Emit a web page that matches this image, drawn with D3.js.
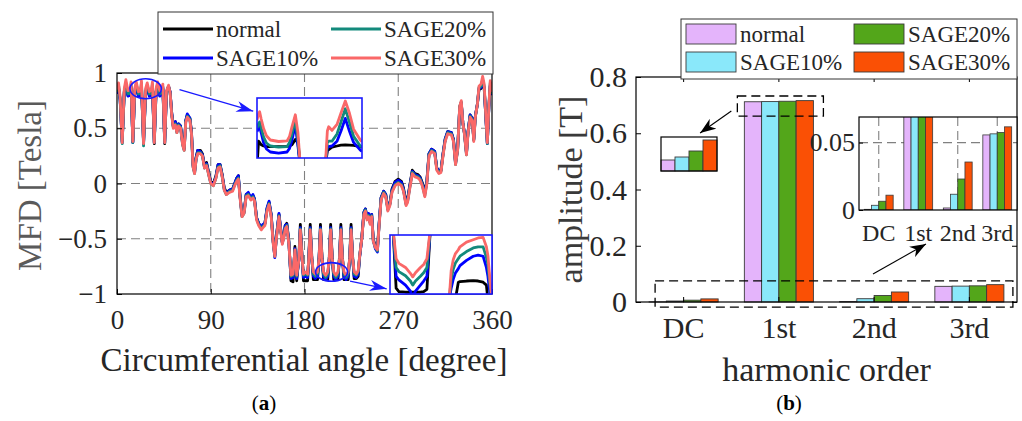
<!DOCTYPE html>
<html>
<head>
<meta charset="utf-8">
<script src="https://cdn.jsdelivr.net/npm/d3@7"></script>
<style>
  body { margin: 0; background: #fff; }
  svg { display: block; font-family: "Liberation Serif", "Times New Roman", serif; }
</style>
</head>
<body>
<svg id="chart"></svg>
<script>
const width = 1022;
const height = 421;

const seriesNames = ["normal", "SAGE10%", "SAGE20%", "SAGE30%"];
const lineColors = ["#000000", "#0000ff", "#138a7c", "#fa6868"];
const barColors = ["#e4b4fb", "#8ae8fa", "#53a61a", "#fa5005"];

// (a) magnetic flux density vs angle
const angles = [
  0, 1.5, 3, 5, 7, 8.5, 10.5, 12.5, 13.5, 15.2, 17, 18.5, 20.5, 22.5, 23.5, 25.5, 27.5, 29, 31, 33, 34, 35.8, 37.5, 39, 41, 43, 44, 45.8, 47.5, 49.5, 51,
  52.5, 54, 56, 57.5, 59, 61, 63, 64.5, 66, 67.5, 70, 71.5, 73, 74.5, 76, 77.5, 80, 82, 84, 86, 88, 90, 92.5, 95, 97, 99, 101, 103, 105, 108,
  111, 113, 115, 116.5, 118, 120, 122, 124, 126, 128.5, 130.5, 132, 134, 136, 138.5, 140, 142, 144, 146, 148, 150, 151.5, 153, 155.5, 157, 158.7, 160, 161.5, 163, 165,
  165.5, 167, 169, 170.8, 172.5, 174.5, 176, 177.5, 179, 181, 183, 184, 185.5, 187, 188.5, 190.5, 192.5, 194, 195.3, 196.8, 198.3, 200.3, 202.3, 203.8, 205.1, 206.6,
  208.1, 210.1, 212.1, 213.6, 214.9, 216.4, 217.9, 219.9, 221.9, 223.4, 224.7, 226.2, 227.7, 229.7, 231.5, 233, 235,
  237, 238.5, 240, 241.5, 243, 244.5, 246, 248, 250, 251.5, 253.5, 256, 258, 260, 262, 264, 267, 270, 273, 275,
  277.5, 279, 281, 283.5, 286, 289, 291, 293, 295.5, 297.5, 299.5, 302, 305, 307, 309, 311, 313, 315, 317.5, 321,
  323, 325, 327, 329, 330.5, 332, 333.5, 335.5, 337, 339, 341, 342.5, 344, 346, 347.5, 349.5, 351, 352.5, 354, 355.5, 357, 358.3, 360
];

const mfdNormal = [
  0.82, 0.86, 0.76, 0.38, 0.83, 0.88, 0.80, 0.81, 0.87, 0.38, 0.83, 0.87, 0.80, 0.81, 0.88, 0.37, 0.83, 0.86, 0.80, 0.81, 0.87, 0.36, 0.83, 0.87, 0.80, 0.82, 0.86, 0.36, 0.82, 0.88, 0.83,
  0.64, 0.52, 0.56, 0.48, 0.54, 0.52, 0.37, 0.32, 0.57, 0.62, 0.59, 0.47, 0.17, 0.11, 0.24, 0.30, 0.30, 0.27, 0.16, 0.19, 0.10, 0.02, 0.00, 0.07, 0.17, 0.17, 0.08, -0.04, -0.08, -0.06,
  -0.05, 0.00, 0.05, 0.07, -0.10, -0.28, -0.25, -0.10, -0.09, -0.13, -0.11, -0.14, -0.31, -0.36, -0.40, -0.38, -0.36, -0.23, -0.17, -0.28, -0.53, -0.65, -0.48, -0.28, -0.40, -0.53, -0.48, -0.38, -0.36, -0.52,
  -0.60, -0.88, -0.89, -0.57, -0.88, -0.68, -0.37, -0.63, -0.88, -0.88, -0.88, -0.68, -0.37, -0.66, -0.87, -0.87, -0.87, -0.66, -0.37, -0.66, -0.87, -0.87, -0.87, -0.66, -0.37, -0.66,
  -0.87, -0.87, -0.87, -0.66, -0.37, -0.66, -0.87, -0.87, -0.87, -0.66, -0.37, -0.66, -0.86, -0.86, -0.84, -0.66, -0.49,
  -0.26, -0.23, -0.31, -0.28, -0.35, -0.28, -0.50, -0.57, -0.59, -0.38, -0.13, -0.07, -0.10, -0.23, -0.18, -0.05, 0.02, 0.04, 0.02, -0.04,
  -0.17, -0.14, -0.02, 0.12, 0.09, 0.08, 0.06, 0.01, -0.08, 0.03, 0.27, 0.31, 0.29, 0.14, 0.11, 0.12, 0.27, 0.40, 0.47, 0.46,
  0.40, 0.19, 0.31, 0.69, 0.73, 0.55, 0.46, 0.28, 0.47, 0.62, 0.59, 0.40, 0.61, 0.72, 0.85, 0.86, 0.91, 0.86, 0.61, 0.37, 0.69, 0.88, 0.80
];

const mfdSage10 = [
  0.81, 0.87, 0.75, 0.37, 0.83, 0.89, 0.79, 0.80, 0.88, 0.37, 0.83, 0.88, 0.79, 0.80, 0.89, 0.36, 0.83, 0.87, 0.79, 0.80, 0.88, 0.37, 0.83, 0.88, 0.79, 0.81, 0.87, 0.37, 0.82, 0.88, 0.83,
  0.64, 0.52, 0.56, 0.47, 0.54, 0.52, 0.36, 0.31, 0.57, 0.63, 0.59, 0.46, 0.16, 0.10, 0.23, 0.30, 0.29, 0.26, 0.15, 0.18, 0.09, 0.01, -0.01, 0.06, 0.17, 0.17, 0.07, -0.05, -0.09, -0.06,
  -0.05, 0.00, 0.05, 0.07, -0.10, -0.29, -0.26, -0.10, -0.08, -0.13, -0.10, -0.14, -0.31, -0.36, -0.40, -0.37, -0.36, -0.22, -0.16, -0.28, -0.53, -0.67, -0.48, -0.27, -0.40, -0.54, -0.48, -0.38, -0.37, -0.53,
  -0.62, -0.86, -0.85, -0.59, -0.86, -0.70, -0.40, -0.65, -0.85, -0.84, -0.85, -0.70, -0.40, -0.68, -0.84, -0.86, -0.84, -0.68, -0.40, -0.68, -0.84, -0.87, -0.84, -0.68, -0.40, -0.68,
  -0.84, -0.87, -0.84, -0.68, -0.40, -0.68, -0.84, -0.87, -0.84, -0.68, -0.40, -0.68, -0.84, -0.85, -0.82, -0.66, -0.50,
  -0.26, -0.23, -0.31, -0.27, -0.35, -0.28, -0.51, -0.59, -0.62, -0.38, -0.13, -0.07, -0.10, -0.23, -0.18, -0.06, 0.01, 0.03, 0.01, -0.05,
  -0.18, -0.15, -0.03, 0.11, 0.08, 0.07, 0.05, 0.00, -0.09, 0.02, 0.27, 0.31, 0.29, 0.14, 0.11, 0.12, 0.27, 0.40, 0.47, 0.46,
  0.40, 0.18, 0.31, 0.69, 0.73, 0.55, 0.46, 0.27, 0.47, 0.62, 0.59, 0.40, 0.61, 0.72, 0.86, 0.87, 0.92, 0.87, 0.61, 0.36, 0.69, 0.89, 0.80
];

const mfdSage20 = [
  0.83, 0.89, 0.77, 0.36, 0.84, 0.91, 0.81, 0.82, 0.90, 0.37, 0.84, 0.90, 0.81, 0.82, 0.91, 0.34, 0.84, 0.89, 0.81, 0.82, 0.90, 0.37, 0.84, 0.90, 0.81, 0.83, 0.88, 0.37, 0.83, 0.88, 0.82,
  0.63, 0.51, 0.54, 0.46, 0.53, 0.51, 0.35, 0.30, 0.56, 0.61, 0.58, 0.45, 0.15, 0.09, 0.22, 0.28, 0.28, 0.25, 0.14, 0.17, 0.08, 0.00, -0.02, 0.05, 0.15, 0.16, 0.06, -0.06, -0.10, -0.07,
  -0.06, -0.01, 0.03, 0.05, -0.11, -0.30, -0.27, -0.11, -0.10, -0.14, -0.12, -0.15, -0.32, -0.37, -0.41, -0.39, -0.37, -0.24, -0.18, -0.29, -0.54, -0.66, -0.49, -0.29, -0.41, -0.54, -0.49, -0.40, -0.38, -0.54,
  -0.62, -0.84, -0.83, -0.60, -0.84, -0.70, -0.41, -0.65, -0.83, -0.82, -0.83, -0.70, -0.41, -0.68, -0.82, -0.84, -0.82, -0.68, -0.41, -0.68, -0.82, -0.85, -0.82, -0.68, -0.41, -0.68,
  -0.82, -0.85, -0.82, -0.68, -0.41, -0.68, -0.82, -0.85, -0.82, -0.68, -0.41, -0.68, -0.82, -0.83, -0.80, -0.65, -0.50,
  -0.27, -0.24, -0.32, -0.29, -0.36, -0.29, -0.52, -0.58, -0.61, -0.39, -0.14, -0.08, -0.11, -0.24, -0.19, -0.07, -0.01, 0.01, -0.01, -0.06,
  -0.19, -0.16, -0.04, 0.10, 0.07, 0.06, 0.04, -0.01, -0.11, 0.01, 0.26, 0.30, 0.28, 0.13, 0.10, 0.11, 0.26, 0.39, 0.46, 0.45,
  0.39, 0.17, 0.30, 0.70, 0.74, 0.55, 0.45, 0.26, 0.46, 0.61, 0.58, 0.39, 0.60, 0.72, 0.87, 0.88, 0.94, 0.88, 0.62, 0.36, 0.70, 0.91, 0.81
];

const mfdSage30 = [
  0.85, 0.91, 0.78, 0.37, 0.86, 0.94, 0.84, 0.85, 0.92, 0.38, 0.86, 0.92, 0.83, 0.84, 0.93, 0.36, 0.86, 0.91, 0.83, 0.85, 0.92, 0.37, 0.86, 0.92, 0.84, 0.86, 0.90, 0.37, 0.84, 0.89, 0.82,
  0.62, 0.50, 0.53, 0.46, 0.52, 0.50, 0.35, 0.30, 0.55, 0.60, 0.57, 0.45, 0.15, 0.09, 0.22, 0.27, 0.27, 0.25, 0.14, 0.16, 0.08, 0.00, -0.02, 0.05, 0.14, 0.15, 0.06, -0.06, -0.10, -0.08,
  -0.07, -0.02, 0.02, 0.04, -0.12, -0.30, -0.27, -0.12, -0.11, -0.15, -0.13, -0.16, -0.33, -0.38, -0.42, -0.40, -0.38, -0.25, -0.19, -0.30, -0.55, -0.66, -0.50, -0.30, -0.42, -0.55, -0.50, -0.41, -0.39, -0.55,
  -0.62, -0.83, -0.82, -0.60, -0.83, -0.70, -0.42, -0.65, -0.82, -0.80, -0.82, -0.70, -0.42, -0.68, -0.80, -0.82, -0.80, -0.68, -0.42, -0.68, -0.80, -0.83, -0.80, -0.68, -0.42, -0.68,
  -0.80, -0.83, -0.80, -0.68, -0.42, -0.68, -0.80, -0.83, -0.80, -0.68, -0.42, -0.68, -0.80, -0.82, -0.79, -0.65, -0.50,
  -0.28, -0.25, -0.33, -0.30, -0.37, -0.30, -0.52, -0.58, -0.60, -0.40, -0.15, -0.09, -0.12, -0.25, -0.20, -0.08, -0.02, 0.00, -0.02, -0.07,
  -0.20, -0.17, -0.05, 0.09, 0.06, 0.05, 0.03, -0.02, -0.12, 0.00, 0.25, 0.29, 0.27, 0.12, 0.09, 0.10, 0.25, 0.38, 0.45, 0.44,
  0.38, 0.17, 0.30, 0.70, 0.75, 0.55, 0.45, 0.26, 0.45, 0.60, 0.57, 0.38, 0.60, 0.72, 0.88, 0.90, 0.97, 0.90, 0.62, 0.37, 0.70, 0.93, 0.83
];

// (a) zoomed insets, local units 0..100
const zoomTopX = [0, 1.5, 2.5, 4, 6.3, 9, 12.7, 20.6, 28.6, 31, 33.3, 36.5, 39, 41.3, 53, 65, 67, 68.3, 71.4, 76.2, 80, 84.1, 88, 92, 98.4, 100];
const zoomTopNormal = [-15, 28, 26, 22, 20, 19, 19, 19, 19.5, 20, 22, 31, 25, -15, null, -15, 12, 14, 18, 20, 21.5, 22, 21.5, 21, 19, 18];
const zoomTopSage10 = [44, 50, 52, 42, 25, 15, 10, 8, 10, 16, 30, 55, 20, -15, null, -15, 18, 19, 20, 28, 45, 66, 45, 26, 13, 11];
const zoomTopSage20 = [50, 57, 60, 50, 35, 25, 20, 18, 19, 26, 40, 63, 30, -15, null, -15, 26, 28, 28, 40, 60, 82, 60, 36, 20, 18];
const zoomTopSage30 = [63, 74, 77, 65, 49, 37, 30, 27.5, 28.5, 36, 52, 72, 42, -15, null, -15, 45, 52, 46, 56, 75, 95, 75, 48, 30, 27];

const zoomBotX = [3, 6, 8.7, 15.2, 20, 22.3, 25, 29.8, 33, 36.2, 39.5, 48, 58, 60, 62, 64, 67, 68.6, 75, 81.6, 86.4, 91.3, 94.5, 96, 97.7, 100];
const zoomBotNormal = [110, 10, 4, 3, 3, 3, 3, 3, 4, 8, 110, null, -10, -10, -10, -10, 20, 21, 22, 22.5, 22, 20, 15, -10, -10, -10];
const zoomBotSage10 = [110, 30, 24, 15, 5, -5, 5, 15, 22, 30, 110, null, -10, 10, 25, 35, 43, 48, 57, 64, 66, 64, 45, 30, 5, -10];
const zoomBotSage20 = [110, 45, 38, 31, 22, 15, 22, 30, 36, 45, 110, null, -10, 25, 42, 52, 60, 64, 72, 78, 80, 80, 62, 50, 20, -10];
const zoomBotSage30 = [110, 60, 52, 45, 35, 29, 36, 45, 50, 60, 110, null, -10, 40, 58, 68, 75, 80, 88, 92, 95, 96, 80, 65, 30, -10];

// (b) harmonic amplitudes
const harmonics = ["DC", "1st", "2nd", "3rd"];
const ampNormal = [0.0005, 0.7120, 0.0015, 0.0557];
const ampSage10 = [0.0035, 0.7126, 0.0117, 0.0565];
const ampSage20 = [0.0065, 0.7138, 0.0230, 0.0575];
const ampSage30 = [0.0110, 0.7160, 0.0356, 0.0617];

const mfdTicksX = [0, 90, 180, 270, 360];
const mfdTicksY = [-1, -0.5, 0, 0.5, 1];
const ampTicks = [0, 0.2, 0.4, 0.6, 0.8];
const ampZoomTicks = [0, 0.05];

const textColor = "#262626";
const gridColor = "#808080";

const svg = d3.select("#chart").attr("width", width).attr("height", height);
const defs = svg.append("defs");

function arrowMarker(id, color, len, half) {
  defs.append("marker")
    .attr("id", id)
    .attr("markerUnits", "userSpaceOnUse")
    .attr("viewBox", `${-len} ${-half} ${len} ${half * 2}`)
    .attr("markerWidth", len)
    .attr("markerHeight", half * 2)
    .attr("refX", 0)
    .attr("refY", 0)
    .attr("orient", "auto")
    .append("path")
    .attr("d", `M0,0L${-len},${-half}L${-len * 0.7},0L${-len},${half}Z`)
    .attr("fill", color);
}
arrowMarker("arrow-blue", "#1a1aff", 17, 5.5);
arrowMarker("arrow-black", "#000", 16, 6);

function clipRect(id, x0, y0, x1, y1) {
  defs.append("clipPath").attr("id", id)
    .append("rect").attr("x", x0).attr("y", y0).attr("width", x1 - x0).attr("height", y1 - y0);
}

function styleTicks(g, size) {
  g.select(".domain").remove();
  g.selectAll("line").attr("stroke", "#000").attr("stroke-width", 1);
  g.selectAll("text").attr("fill", textColor).style("font-size", size + "px").style("font-family", "Liberation Serif");
}

// ---------------- panel (a) ----------------
const pa = { left: 117, right: 492, top: 73, bottom: 294 };
const xA = d3.scaleLinear().domain([0, 360]).range([pa.left, pa.right]);
const yA = d3.scaleLinear().domain([-1, 1]).range([pa.bottom, pa.top]);
clipRect("clip-a", pa.left, pa.top, pa.right, pa.bottom);

const gA = svg.append("g");

gA.append("g").selectAll("line.gx").data([90, 180, 270]).join("line")
  .attr("x1", d => xA(d)).attr("x2", d => xA(d)).attr("y1", pa.top).attr("y2", pa.bottom)
  .attr("stroke", gridColor).attr("stroke-width", 1.1).attr("stroke-dasharray", "9,5");
gA.append("g").selectAll("line.gy").data([-0.5, 0, 0.5]).join("line")
  .attr("x1", pa.left).attr("x2", pa.right).attr("y1", d => yA(d)).attr("y2", d => yA(d))
  .attr("stroke", gridColor).attr("stroke-width", 1.1).attr("stroke-dasharray", "9,5");

const mfdSeries = [mfdNormal, mfdSage10, mfdSage20, mfdSage30];
const lineA = d3.line().x(d => xA(d[0])).y(d => yA(d[1]));
gA.append("g").attr("clip-path", "url(#clip-a)")
  .selectAll("path").data(mfdSeries).join("path")
  .attr("d", vals => lineA(angles.map((t, j) => [t, vals[j]])))
  .attr("fill", "none")
  .attr("stroke", (d, i) => lineColors[i])
  .attr("stroke-width", 2.8)
  .attr("stroke-linejoin", "round");

gA.append("g").attr("transform", `translate(0,${pa.bottom})`)
  .call(d3.axisBottom(xA).tickValues(mfdTicksX).tickSizeInner(-5).tickSizeOuter(0).tickPadding(16).tickFormat(d3.format("~g")))
  .call(g => styleTicks(g, 27));
gA.append("g").attr("transform", `translate(${pa.left},0)`)
  .call(d3.axisLeft(yA).tickValues(mfdTicksY).tickSizeInner(-5).tickSizeOuter(0).tickPadding(10).tickFormat(d3.format("~g")))
  .call(g => styleTicks(g, 27));

gA.append("rect")
  .attr("x", pa.left).attr("y", pa.top).attr("width", pa.right - pa.left).attr("height", pa.bottom - pa.top)
  .attr("fill", "none").attr("stroke", "#000").attr("stroke-width", 1.2);

// ellipses and arrows pointing at the zoom boxes
const marksA = [
  { angle: 27.5, value: 0.857, rx: 15.7, ry: 10, from: [60, 0.85], to: [130.8, 0.654] },
  { angle: 206, value: -0.8, rx: 16, ry: 9.3, from: [223.7, -0.884], to: [258.9, -0.953] }
];
marksA.forEach(m => {
  gA.append("ellipse")
    .attr("cx", xA(m.angle)).attr("cy", yA(m.value)).attr("rx", m.rx).attr("ry", m.ry)
    .attr("fill", "none").attr("stroke", "#1a1aff").attr("stroke-width", 1.6);
  gA.append("line")
    .attr("x1", xA(m.from[0])).attr("y1", yA(m.from[1]))
    .attr("x2", xA(m.to[0])).attr("y2", yA(m.to[1]))
    .attr("stroke", "#1a1aff").attr("stroke-width", 1.3)
    .attr("marker-end", "url(#arrow-blue)");
});

function zoomInset(id, box, xs, seriesVals) {
  const sx = d3.scaleLinear().domain([0, 100]).range([box.left, box.right]);
  const sy = d3.scaleLinear().domain([0, 100]).range([box.bottom, box.top]);
  clipRect(id, box.left, box.top, box.right, box.bottom);
  const g = gA.append("g");
  g.append("rect")
    .attr("x", box.left).attr("y", box.top).attr("width", box.right - box.left).attr("height", box.bottom - box.top)
    .attr("fill", "#fff");
  const ln = d3.line().defined(d => d[1] != null).x(d => sx(d[0])).y(d => sy(d[1]));
  g.append("g").attr("clip-path", `url(#${id})`)
    .selectAll("path").data(seriesVals).join("path")
    .attr("d", vals => ln(xs.map((x, j) => [x, vals[j]])))
    .attr("fill", "none")
    .attr("stroke", (d, i) => lineColors[i])
    .attr("stroke-width", 2.8)
    .attr("stroke-linejoin", "round");
  g.append("rect")
    .attr("x", box.left).attr("y", box.top).attr("width", box.right - box.left).attr("height", box.bottom - box.top)
    .attr("fill", "none").attr("stroke", "#1a1aff").attr("stroke-width", 1.6);
}
zoomInset("clip-z1", { left: 257, right: 362, top: 98, bottom: 158 }, zoomTopX,
  [zoomTopNormal, zoomTopSage10, zoomTopSage20, zoomTopSage30]);
zoomInset("clip-z2", { left: 390, right: 492, top: 235, bottom: 294 }, zoomBotX,
  [zoomBotNormal, zoomBotSage10, zoomBotSage20, zoomBotSage30]);

gA.append("text")
  .attr("x", 304).attr("y", 371)
  .attr("text-anchor", "middle").attr("fill", textColor).style("font-size", "33px")
  .text("Circumferential angle [degree]");
gA.append("text")
  .attr("transform", `translate(41,${(pa.top + pa.bottom) / 2 + 2}) rotate(-90)`)
  .attr("text-anchor", "middle").attr("fill", "#5a5a5a").style("font-size", "33px")
  .text("MFD [Tesla]");

// legend (a)
const legA = gA.append("g");
legA.append("rect").attr("x", 158).attr("y", 12).attr("width", 335).attr("height", 62)
  .attr("fill", "#fff").attr("stroke", "#333").attr("stroke-width", 1);
const legPos = [[163, 29], [163, 58], [331, 29], [331, 58]];
seriesNames.forEach((name, i) => {
  const [lx, ly] = legPos[i];
  legA.append("line").attr("x1", lx).attr("x2", lx + 50).attr("y1", ly).attr("y2", ly)
    .attr("stroke", lineColors[i]).attr("stroke-width", 2.8);
  legA.append("text").attr("x", lx + 53).attr("y", ly + 8)
    .attr("fill", textColor).style("font-size", "23px").text(name);
});

svg.append("text").attr("x", 264).attr("y", 410).attr("text-anchor", "middle")
  .attr("fill", "#000").style("font-size", "21px")
  .html('(<tspan font-weight="bold">a</tspan>)');

// ---------------- panel (b) ----------------
const pb = { left: 636, right: 1017, top: 77, bottom: 302 };
const xB = d3.scaleBand().domain(harmonics).range([pb.left, pb.right]).paddingInner(0.275).paddingOuter(0.1375);
const xBs = d3.scaleBand().domain(seriesNames).range([0, xB.bandwidth()]);
const yB = d3.scaleLinear().domain([0, 0.8]).range([pb.bottom, pb.top]);

const ampSeries = [ampNormal, ampSage10, ampSage20, ampSage30];
const barData = harmonics.flatMap((h, i) => seriesNames.map((s, j) => ({ h, s, j, v: ampSeries[j][i] })));

const gB = svg.append("g");

gB.append("g").selectAll("rect").data(barData).join("rect")
  .attr("x", d => xB(d.h) + xBs(d.s))
  .attr("width", xBs.bandwidth())
  .attr("y", d => yB(d.v))
  .attr("height", d => yB(0) - yB(d.v))
  .attr("fill", d => barColors[d.j])
  .attr("stroke", "#3a3a3a").attr("stroke-width", 0.9);

gB.append("g").attr("transform", `translate(0,${pb.bottom})`)
  .call(d3.axisBottom(xB).tickSizeInner(-5).tickSizeOuter(0).tickPadding(15))
  .call(g => styleTicks(g, 30));
gB.append("g").attr("transform", `translate(0,${pb.top})`)
  .call(d3.axisTop(xB).tickSizeInner(-5).tickSizeOuter(0).tickFormat(""))
  .call(g => styleTicks(g, 30));
gB.append("g").attr("transform", `translate(${pb.left},0)`)
  .call(d3.axisLeft(yB).tickValues(ampTicks).tickSizeInner(-5).tickSizeOuter(0).tickPadding(9).tickFormat(d3.format("~g")))
  .call(g => styleTicks(g, 30));
gB.append("g").attr("transform", `translate(${pb.right},0)`)
  .call(d3.axisRight(yB).tickValues(ampTicks).tickSizeInner(-5).tickSizeOuter(0).tickFormat(""))
  .call(g => styleTicks(g, 30));

gB.append("rect")
  .attr("x", pb.left).attr("y", pb.top).attr("width", pb.right - pb.left).attr("height", pb.bottom - pb.top)
  .attr("fill", "none").attr("stroke", "#000").attr("stroke-width", 1.2);

// dashed boxes marking zoomed areas
const bw = xB.bandwidth();
const dashBoxes = [
  { x0: xB("1st") - 7, x1: xB("1st") + bw + 10, v0: 0.7324, v1: 0.661 },
  { x0: xB("DC") + 6, x1: xB("3rd") + bw + 9, v0: 0.075, v1: -0.018 }
];
gB.append("g").selectAll("rect").data(dashBoxes).join("rect")
  .attr("x", d => d.x0).attr("width", d => d.x1 - d.x0)
  .attr("y", d => yB(d.v0)).attr("height", d => yB(d.v1) - yB(d.v0))
  .attr("fill", "none").attr("stroke", "#000").attr("stroke-width", 1.3).attr("stroke-dasharray", "9,5");

const arrowsB = [
  { x0: xB("1st") - 13, v0: 0.679, x1: xB("DC") + 51, v1: 0.601 },
  { x0: xB("2nd") + 33.4, v0: 0.0996, x1: xB("2nd") + 86.4, v1: 0.206 }
];
gB.append("g").selectAll("line").data(arrowsB).join("line")
  .attr("x1", d => d.x0).attr("y1", d => yB(d.v0))
  .attr("x2", d => d.x1).attr("y2", d => yB(d.v1))
  .attr("stroke", "#000").attr("stroke-width", 1.1)
  .attr("marker-end", "url(#arrow-black)");

// zoom of the 1st harmonic tops
const zb = { left: 661, right: 717, top: 137, bottom: 171 };
const xZ = d3.scaleBand().domain(seriesNames).range([zb.left, zb.right]);
const yZ = d3.scaleLinear().domain([0.7098, 0.7166]).range([zb.bottom, zb.top]);
const firstBars = barData.filter(d => d.h === "1st");
gB.append("rect").attr("x", zb.left).attr("y", zb.top).attr("width", zb.right - zb.left).attr("height", zb.bottom - zb.top)
  .attr("fill", "#fff");
gB.append("g").selectAll("rect").data(firstBars).join("rect")
  .attr("x", d => xZ(d.s)).attr("width", xZ.bandwidth())
  .attr("y", d => yZ(d.v)).attr("height", d => yZ.range()[0] - yZ(d.v))
  .attr("fill", d => barColors[d.j]).attr("stroke", "#3a3a3a").attr("stroke-width", 0.9);
gB.append("rect").attr("x", zb.left).attr("y", zb.top).attr("width", zb.right - zb.left).attr("height", zb.bottom - zb.top)
  .attr("fill", "none").attr("stroke", "#000").attr("stroke-width", 1.2);

// zoom of the low amplitudes
const ib = { left: 859, right: 1017, top: 117, bottom: 210 };
const xI = d3.scaleBand().domain(harmonics).range([ib.left, ib.right]).paddingInner(0.27).paddingOuter(0.135);
const xIs = d3.scaleBand().domain(seriesNames).range([0, xI.bandwidth()]);
const yI = d3.scaleLinear().domain([0, 0.069]).range([ib.bottom, ib.top]);
clipRect("clip-ib", ib.left, ib.top, ib.right, ib.bottom);
const gI = gB.append("g");
gI.append("rect").attr("x", ib.left).attr("y", ib.top).attr("width", ib.right - ib.left).attr("height", ib.bottom - ib.top)
  .attr("fill", "#fff");
gI.append("g").selectAll("line").data(harmonics).join("line")
  .attr("x1", d => xI(d) + xI.bandwidth() / 2).attr("x2", d => xI(d) + xI.bandwidth() / 2)
  .attr("y1", ib.top).attr("y2", ib.bottom)
  .attr("stroke", gridColor).attr("stroke-width", 1.1).attr("stroke-dasharray", "9,5");
gI.append("line").attr("x1", ib.left).attr("x2", ib.right).attr("y1", yI(0.05)).attr("y2", yI(0.05))
  .attr("stroke", gridColor).attr("stroke-width", 1.1).attr("stroke-dasharray", "9,5");
gI.append("g").attr("clip-path", "url(#clip-ib)")
  .selectAll("rect").data(barData).join("rect")
  .attr("x", d => xI(d.h) + xIs(d.s)).attr("width", xIs.bandwidth())
  .attr("y", d => yI(d.v)).attr("height", d => yI(0) - yI(d.v))
  .attr("fill", d => barColors[d.j]).attr("stroke", "#3a3a3a").attr("stroke-width", 0.8);
gI.append("g").attr("transform", `translate(0,${ib.bottom})`)
  .call(d3.axisBottom(xI).tickSize(0).tickPadding(14))
  .call(g => styleTicks(g, 24));
gI.append("g").attr("transform", `translate(${ib.left},0)`)
  .call(d3.axisLeft(yI).tickValues(ampZoomTicks).tickSizeInner(-4).tickSizeOuter(0).tickPadding(4).tickFormat(d3.format("~g")))
  .call(g => styleTicks(g, 26));
gI.append("rect").attr("x", ib.left).attr("y", ib.top).attr("width", ib.right - ib.left).attr("height", ib.bottom - ib.top)
  .attr("fill", "none").attr("stroke", "#000").attr("stroke-width", 1.2);

gB.append("text")
  .attr("x", (pb.left + pb.right) / 2).attr("y", 381)
  .attr("text-anchor", "middle").attr("fill", textColor).style("font-size", "34px")
  .text("harmonic order");
gB.append("text")
  .attr("transform", `translate(582,${(pb.top + pb.bottom) / 2}) rotate(-90)`)
  .attr("text-anchor", "middle").attr("fill", "#3a3a3a").style("font-size", "34px")
  .text("amplitude [T]");

// legend (b)
const legB = gB.append("g");
legB.append("rect").attr("x", 681).attr("y", 19).attr("width", 336).attr("height", 60)
  .attr("fill", "#fff").attr("stroke", "#333").attr("stroke-width", 1);
const swPos = [[686, 24], [686, 52], [854, 24], [854, 52]];
seriesNames.forEach((name, i) => {
  const [sx, sy] = swPos[i];
  legB.append("rect").attr("x", sx).attr("y", sy).attr("width", 50).attr("height", 20)
    .attr("fill", barColors[i]).attr("stroke", "#3a3a3a").attr("stroke-width", 0.9);
  legB.append("text").attr("x", sx + 54).attr("y", sy + 18)
    .attr("fill", textColor).style("font-size", "23px").text(name);
});

svg.append("text").attr("x", 789).attr("y", 410).attr("text-anchor", "middle")
  .attr("fill", "#000").style("font-size", "21px")
  .html('(<tspan font-weight="bold">b</tspan>)');
</script>
</body>
</html>
